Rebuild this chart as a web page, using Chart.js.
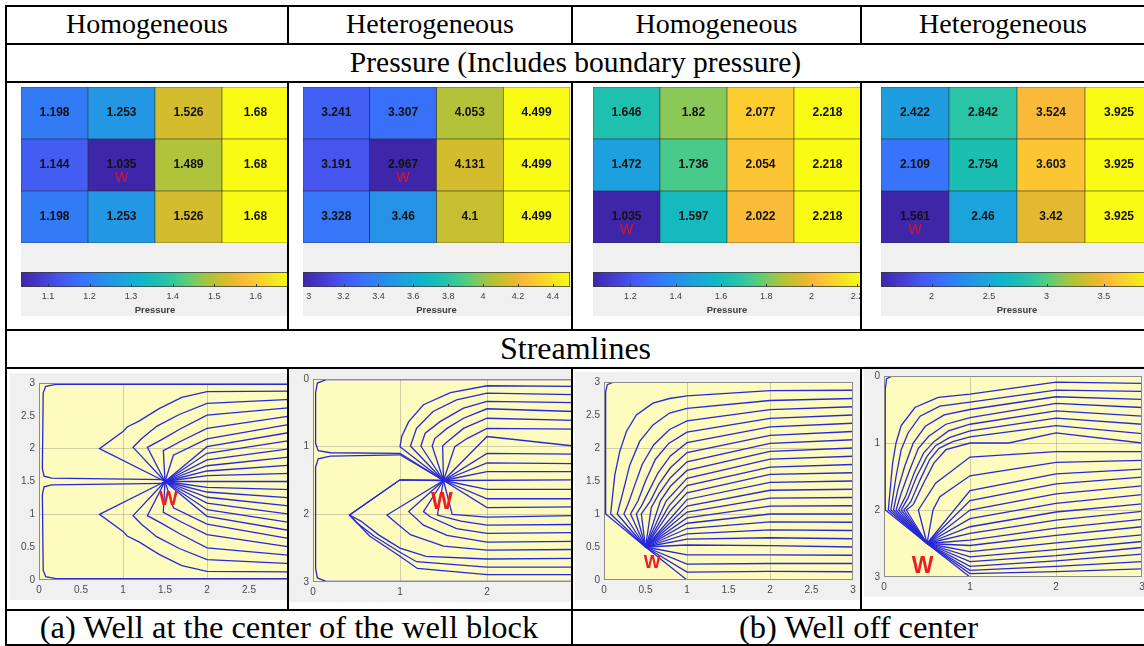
<!DOCTYPE html>
<html>
<head>
<meta charset="utf-8">
<script src="https://cdn.jsdelivr.net/npm/chart.js@4.4.1/dist/chart.umd.min.js"></script>
<style>
  body { margin: 0; background: #fff; width: 1144px; height: 646px; overflow: hidden; position: relative; }
  .rule { position: absolute; background: #000; z-index: 5; }
  .cap { position: absolute; text-align: center; font-family: 'Liberation Serif', serif; font-size: 28px; line-height: 38px; color: #000; white-space: nowrap; }
  .panel { position: absolute; overflow: hidden; background: #f0f0f0; }
  canvas { position: absolute; }
</style>
</head>
<body>
<div id="page"></div>
<script>
// ---------- table text ----------
const colHeads = ['Homogeneous', 'Heterogeneous', 'Homogeneous', 'Heterogeneous'];
const pressureRow = 'Pressure (Includes boundary pressure)';
const streamRow = 'Streamlines';
const captions = ['(a) Well at the center of the well block', '(b) Well off center'];

// ---------- pressure grids (rows top -> bottom) ----------
const p1Cells = [[1.198, 1.253, 1.526, 1.68], [1.144, 1.035, 1.489, 1.68], [1.198, 1.253, 1.526, 1.68]];
const p2Cells = [[3.241, 3.307, 4.053, 4.499], [3.191, 2.967, 4.131, 4.499], [3.328, 3.46, 4.1, 4.499]];
const p3Cells = [[1.646, 1.82, 2.077, 2.218], [1.472, 1.736, 2.054, 2.218], [1.035, 1.597, 2.022, 2.218]];
const p4Cells = [[2.422, 2.842, 3.524, 3.925], [2.109, 2.754, 3.603, 3.925], [1.561, 2.46, 3.42, 3.925]];
const p1Well = [1, 1];
const p2Well = [1, 1];
const p3Well = [2, 0];
const p4Well = [2, 0];
const p1Range = [1.035, 1.68];
const p2Range = [2.967, 4.499];
const p3Range = [1.035, 2.218];
const p4Range = [1.561, 3.925];
const p1Ticks = [1.1, 1.2, 1.3, 1.4, 1.5, 1.6];
const p2Ticks = [3, 3.2, 3.4, 3.6, 3.8, 4, 4.2, 4.4];
const p3Ticks = [1.2, 1.4, 1.6, 1.8, 2, 2.2];
const p4Ticks = [2, 2.5, 3, 3.5];

// ---------- streamlines (x, y) ----------
const sl1 = [
  [[3,2.98],[0.2,2.98],[0.08,2.95],[0.05,2.85],[0.04,1.7],[0.06,1.58],[0.15,1.55],[1.5,1.53]],
  [[3,2.875],[2,2.87],[1.7,2.78],[1.43,2.61],[1.19,2.42],[1.05,2.33],[1.0,2.26],[0.72,2.0],[1.5,1.5]],
  [[3,2.75],[2,2.69],[1.67,2.52],[1.4,2.34],[1.22,2.15],[1.12,2.02],[1.5,1.5]],
  [[3,2.625],[2,2.51],[1.68,2.3],[1.45,2.13],[1.29,2.02],[1.5,1.5]],
  [[3,2.5],[2,2.31],[1.7,2.12],[1.48,1.97],[1.5,1.5]],
  [[3,2.375],[2,2.15],[1.6,1.9],[1.5,1.5]],
  [[3,2.25],[2,2.03],[1.5,1.5]],
  [[3,2.125],[2,1.93],[1.5,1.5]],
  [[3,2.0],[2,1.83],[1.5,1.5]],
  [[3,1.875],[2,1.74],[1.5,1.5]],
  [[3,1.75],[2,1.66],[1.5,1.5]],
  [[3,1.625],[2,1.59],[1.5,1.5]],
  [[3,1.5],[1.5,1.5]],
  [[3,1.375],[2,1.41],[1.5,1.5]],
  [[3,1.25],[2,1.34],[1.5,1.5]],
  [[3,1.125],[2,1.26],[1.5,1.5]],
  [[3,1.0],[2,1.17],[1.5,1.5]],
  [[3,0.875],[2,1.07],[1.5,1.5]],
  [[3,0.75],[2,0.97],[1.5,1.5]],
  [[3,0.625],[2,0.85],[1.6,1.1],[1.5,1.5]],
  [[3,0.5],[2,0.69],[1.7,0.88],[1.48,1.03],[1.5,1.5]],
  [[3,0.375],[2,0.49],[1.68,0.7],[1.45,0.87],[1.29,0.98],[1.5,1.5]],
  [[3,0.25],[2,0.31],[1.67,0.48],[1.4,0.66],[1.22,0.85],[1.12,0.98],[1.5,1.5]],
  [[3,0.125],[2,0.13],[1.7,0.22],[1.43,0.39],[1.19,0.58],[1.05,0.67],[1.0,0.74],[0.72,1.0],[1.5,1.5]],
  [[3,0.02],[0.2,0.02],[0.08,0.05],[0.05,0.15],[0.04,1.3],[0.06,1.42],[0.15,1.45],[1.5,1.47]]
];
const sl2 = [
  [[3,0.01],[0.15,0.01],[0.05,0.06],[0.03,0.2],[0.03,0.95],[0.06,1.06],[0.2,1.09],[1.0,1.1],[1.5,1.5]],
  [[3,0.11],[2,0.1],[1.58,0.2],[1.27,0.38],[1.1,0.63],[1.02,0.85],[1.0,1.0],[1.5,1.5]],
  [[3,0.23],[2,0.21],[1.65,0.31],[1.38,0.48],[1.19,0.73],[1.12,0.99],[1.5,1.5]],
  [[3,0.35],[2,0.33],[1.73,0.43],[1.46,0.63],[1.29,0.8],[1.24,0.99],[1.5,1.5]],
  [[3,0.48],[2,0.44],[1.73,0.58],[1.54,0.73],[1.4,0.88],[1.37,0.99],[1.5,1.5]],
  [[3,0.61],[2,0.58],[1.73,0.73],[1.54,0.93],[1.49,0.99],[1.5,1.5]],
  [[3,0.74],[2,0.73],[1.77,0.88],[1.63,1.0],[1.5,1.5]],
  [[3,0.99],[2,0.85],[1.5,1.5]],
  [[3,1.11],[2,1.1],[1.5,1.5]],
  [[3,1.25],[2,1.24],[1.5,1.5]],
  [[3,1.37],[2,1.37],[1.5,1.5]],
  [[3,1.49],[1.5,1.5]],
  [[3,1.63],[2,1.63],[1.5,1.5]],
  [[3,1.77],[2,1.77],[1.5,1.5]],
  [[3,1.89],[2,1.9],[1.5,1.5]],
  [[3,2.02],[2,2.04],[1.6,2.0],[1.5,1.5]],
  [[3,2.15],[2,2.16],[1.7,2.1],[1.43,2.01],[1.5,1.5]],
  [[3,2.27],[2,2.28],[1.65,2.21],[1.35,2.04],[1.27,1.96],[1.5,1.5]],
  [[3,2.4],[2,2.41],[1.54,2.31],[1.27,2.16],[1.1,1.96],[1.5,1.5]],
  [[3,2.52],[2,2.53],[1.5,2.47],[1.12,2.3],[0.95,2.12],[0.85,2.01],[1.5,1.5]],
  [[3,2.65],[2,2.66],[1.3,2.62],[1.0,2.5],[0.75,2.3],[0.55,2.1],[0.42,2.01],[1.0,1.49],[1.5,1.5]],
  [[3,2.78],[2,2.78],[1.19,2.7],[1.0,2.56],[0.7,2.32],[0.5,2.12],[0.42,2.01],[1.0,1.49],[1.5,1.5]],
  [[3,2.89],[2,2.89],[1.2,2.8],[1.0,2.62],[0.65,2.32],[0.42,2.01]],
  [[3,2.99],[0.15,2.99],[0.05,2.94],[0.03,2.8],[0.03,1.3],[0.06,1.18],[0.2,1.14],[1.0,1.12],[1.5,1.5]]
];
const sl3 = [
  [[3,3],[0.12,3],[0.04,2.96],[0.02,2.85],[0.02,1.0],[0.5,0.5]],
  [[3,2.875],[2,2.87],[1,2.79],[0.79,2.75],[0.59,2.68],[0.39,2.5],[0.27,2.25],[0.19,1.95],[0.13,1.59],[0.08,1.0],[0.5,0.5]],
  [[3,2.75],[2,2.72],[1,2.6],[0.79,2.53],[0.59,2.35],[0.43,2.1],[0.31,1.74],[0.23,1.34],[0.16,1.0],[0.5,0.5]],
  [[3,2.625],[2,2.58],[1,2.41],[0.79,2.28],[0.6,2.05],[0.46,1.75],[0.36,1.4],[0.29,1.15],[0.24,1.0],[0.5,0.5]],
  [[3,2.5],[2,2.45],[1,2.24],[0.78,2.07],[0.62,1.83],[0.5,1.5],[0.41,1.2],[0.32,1.0],[0.5,0.5]],
  [[3,2.375],[2,2.32],[1,2.08],[0.8,1.88],[0.65,1.62],[0.53,1.32],[0.45,1.12],[0.39,1.0],[0.5,0.5]],
  [[3,2.25],[2,2.19],[1,1.93],[0.8,1.7],[0.66,1.45],[0.56,1.2],[0.45,1.0],[0.5,0.5]],
  [[3,2.125],[2,2.07],[1,1.79],[0.8,1.55],[0.66,1.3],[0.57,1.1],[0.5,0.5]],
  [[3,2.0],[2,1.95],[1,1.66],[0.8,1.42],[0.68,1.2],[0.5,0.5]],
  [[3,1.875],[2,1.83],[1,1.54],[0.75,1.2],[0.5,0.5]],
  [[3,1.75],[2,1.71],[1,1.43],[0.78,1.12],[0.5,0.5]],
  [[3,1.625],[2,1.6],[1,1.32],[0.8,1.05],[0.5,0.5]],
  [[3,1.5],[2,1.48],[1,1.22],[0.5,0.5]],
  [[3,1.375],[2,1.36],[1,1.12],[0.5,0.5]],
  [[3,1.25],[2,1.24],[1,1.03],[0.5,0.5]],
  [[3,1.125],[2,1.12],[1,0.94],[0.5,0.5]],
  [[3,1.0],[2,1.0],[1,0.86],[0.5,0.5]],
  [[3,0.875],[2,0.88],[1,0.78],[0.5,0.5]],
  [[3,0.75],[2,0.76],[1,0.7],[0.5,0.5]],
  [[3,0.625],[2,0.64],[1,0.62],[0.5,0.5]],
  [[3,0.5],[2,0.52],[1,0.53],[0.5,0.5]],
  [[3,0.375],[2,0.38],[1,0.38],[0.5,0.5]],
  [[3,0.25],[2,0.25],[1,0.24],[0.5,0.5]],
  [[3,0.125],[2,0.13],[1,0.12],[0.5,0.5]],
  [[3,0],[1,0],[0.5,0.5]]
];
const sl4 = [
  [[3,0],[0.1,0],[0.03,0.04],[0.015,0.2],[0.015,2.0],[0.5,2.5]],
  [[3,0.11],[2,0.09],[1,0.27],[0.63,0.32],[0.36,0.47],[0.2,0.74],[0.14,1.0],[0.1,1.3],[0.05,2.0],[0.5,2.5]],
  [[3,0.23],[2,0.21],[1,0.39],[0.65,0.45],[0.42,0.6],[0.28,0.85],[0.2,1.1],[0.14,1.5],[0.08,2.0],[0.5,2.5]],
  [[3,0.35],[2,0.31],[1,0.5],[0.7,0.58],[0.48,0.75],[0.34,1.0],[0.24,1.35],[0.16,1.7],[0.11,2.0],[0.5,2.5]],
  [[3,0.47],[2,0.41],[1,0.62],[0.72,0.72],[0.52,0.9],[0.4,1.08],[0.3,1.4],[0.2,1.75],[0.14,2.0],[0.5,2.5]],
  [[3,0.6],[2,0.52],[1,0.72],[0.75,0.82],[0.58,0.98],[0.46,1.15],[0.35,1.45],[0.25,1.8],[0.17,2.0],[0.5,2.5]],
  [[3,0.72],[2,0.63],[1,0.82],[0.76,0.92],[0.6,1.04],[0.5,1.2],[0.38,1.5],[0.28,1.82],[0.2,2.0],[0.5,2.5]],
  [[3,0.86],[2,0.74],[1,0.91],[0.8,0.98],[0.64,1.08],[0.53,1.25],[0.42,1.55],[0.31,1.88],[0.23,2.0],[0.5,2.5]],
  [[3,1.0],[2,0.85],[1.45,1.0],[1,1.0],[0.72,1.1],[0.58,1.3],[0.46,1.6],[0.34,1.92],[0.26,2.0],[0.5,2.5]],
  [[3,1.13],[2,1.13],[1,1.21],[0.6,1.6],[0.4,2.0],[0.5,2.5]],
  [[3,1.26],[2,1.29],[1,1.49],[0.65,1.8],[0.57,2.0],[0.5,2.5]],
  [[3,1.39],[2,1.46],[1,1.71],[0.5,2.5]],
  [[3,1.51],[2,1.61],[1,1.86],[0.5,2.5]],
  [[3,1.64],[2,1.76],[1,2.0],[0.5,2.5]],
  [[3,1.77],[2,1.9],[1,2.13],[0.5,2.5]],
  [[3,1.91],[2,2.03],[1,2.25],[0.5,2.5]],
  [[3,2.02],[2,2.15],[1,2.35],[0.5,2.5]],
  [[3,2.14],[2,2.27],[1,2.45],[0.5,2.5]],
  [[3,2.25],[2,2.38],[1,2.53],[0.5,2.5]],
  [[3,2.37],[2,2.49],[1,2.62],[0.5,2.5]],
  [[3,2.47],[2,2.59],[1,2.7],[0.5,2.5]],
  [[3,2.56],[2,2.68],[1,2.77],[0.5,2.5]],
  [[3,2.66],[2,2.76],[1,2.84],[0.5,2.5]],
  [[3,2.77],[2,2.84],[1,2.9],[0.5,2.5]],
  [[3,2.88],[2,2.92],[1,2.95],[0.5,2.5]],
  [[3,3],[1,3],[0.5,2.5]]
];
const sl1Label = [1.54, 1.22];
const sl2Label = [1.48, 1.83];
const sl3Label = [0.58, 0.26];
const sl4Label = [0.45, 2.85];
const sl1XTicks = [0, 0.5, 1, 1.5, 2, 2.5, 3];
const sl1YTicks = [0, 0.5, 1, 1.5, 2, 2.5, 3];
const sl2XTicks = [0, 1, 2, 3];
const sl2YTicks = [0, 1, 2, 3];
const sl3XTicks = [0, 0.5, 1, 1.5, 2, 2.5, 3];
const sl3YTicks = [0, 0.5, 1, 1.5, 2, 2.5, 3];
const sl4XTicks = [0, 1, 2, 3];
const sl4YTicks = [0, 1, 2, 3];

// parula-like colour stops
const parula = [
  [0.00, 62, 38, 168], [0.08, 70, 60, 212], [0.15, 70, 86, 240], [0.23, 56, 115, 250],
  [0.30, 40, 140, 236], [0.37, 30, 160, 222], [0.44, 15, 180, 205], [0.50, 25, 190, 180],
  [0.56, 50, 198, 160], [0.62, 90, 205, 120], [0.66, 135, 200, 90], [0.70, 172, 195, 60],
  [0.75, 205, 190, 45], [0.79, 228, 185, 48], [0.83, 250, 186, 57], [0.87, 252, 200, 50],
  [0.93, 245, 225, 35], [1.00, 249, 251, 20]
];
function parulaColor(t) {
  t = Math.max(0, Math.min(1, t));
  for (let i = 1; i < parula.length; i++) {
    if (t <= parula[i][0]) {
      const a = parula[i - 1], b = parula[i];
      const f = (t - a[0]) / (b[0] - a[0]);
      const c = [1, 2, 3].map(k => Math.round(a[k] + (b[k] - a[k]) * f));
      return `rgb(${c[0]},${c[1]},${c[2]})`;
    }
  }
  return 'rgb(249,251,20)';
}

const page = document.getElementById('page');

function addRule(x, y, w, h) {
  const d = document.createElement('div');
  d.className = 'rule';
  Object.assign(d.style, { left: x + 'px', top: y + 'px', width: w + 'px', height: h + 'px' });
  page.appendChild(d);
}
function addText(txt, x, w, y, size) {
  const d = document.createElement('div');
  d.className = 'cap';
  d.textContent = txt;
  Object.assign(d.style, { left: x + 'px', width: w + 'px', top: y + 'px' });
  if (size) d.style.fontSize = size + 'px';
  page.appendChild(d);
}
function makeCanvas(parent, x, y, w, h) {
  const c = document.createElement('canvas');
  c.width = w; c.height = h;
  Object.assign(c.style, { left: x + 'px', top: y + 'px', width: w + 'px', height: h + 'px' });
  parent.appendChild(c);
  return c;
}

// ---------- table frame ----------
[5, 43, 81, 329, 367, 609, 644].forEach(y => addRule(5, y, 1139, 2));
addRule(5, 5, 2, 641);
[287, 860].forEach(x => { addRule(x, 5, 2, 38); addRule(x, 81, 2, 248); addRule(x, 367, 2, 242); });
addRule(571, 5, 2, 38); addRule(571, 81, 2, 248); addRule(571, 367, 2, 279);

const colX = [[7, 280], [289, 282], [573, 287], [862, 282]];
colHeads.forEach((t, i) => addText(t, colX[i][0], colX[i][1], 5));
addText(pressureRow, 7, 1137, 43, 29.5);
addText(streamRow, 7, 1137, 329, 32);
addText(captions[0], 7, 564, 608, 32.5);
addText(captions[1], 573, 571, 608, 32.5);

// ---------- pressure panels ----------
const heatPanels = [
  { cells: p1Cells, well: p1Well, range: p1Range, ticks: p1Ticks, left: 21, width: 268, view: 266 },
  { cells: p2Cells, well: p2Well, range: p2Range, ticks: p2Ticks, left: 303, width: 267, view: 268 },
  { cells: p3Cells, well: p3Well, range: p3Range, ticks: p3Ticks, left: 593, width: 268, view: 267 },
  { cells: p4Cells, well: p4Well, range: p4Range, ticks: p4Ticks, left: 881, width: 272, view: 263 }
];

heatPanels.forEach(p => {
  const box = document.createElement('div');
  box.className = 'panel';
  Object.assign(box.style, { left: p.left + 'px', top: '87px', width: p.view + 'px', height: '229px' });
  page.appendChild(box);

  const rowsBottomUp = p.cells.map((row, r) => ({ row, r })).reverse();
  const cellText = {
    id: 'cellText',
    afterDatasetsDraw(chart) {
      const ctx = chart.ctx;
      ctx.save();
      ctx.textAlign = 'center';
      ctx.textBaseline = 'middle';
      chart.data.datasets.forEach((ds, di) => {
        chart.getDatasetMeta(di).data.forEach((el, ci) => {
          const cx = el.x, cy = (el.y + el.base) / 2;
          ctx.fillStyle = '#121212';
          ctx.font = "bold 12px 'Liberation Sans', Arial, sans-serif";
          ctx.fillText(String(p.cells[ds.rowIndex][ci]), cx, cy);
          if (ds.rowIndex === p.well[0] && ci === p.well[1]) {
            ctx.fillStyle = '#e0142a';
            ctx.font = "14px 'Liberation Sans', Arial, sans-serif";
            ctx.fillText('W', cx, cy + 13);
          }
        });
      });
      ctx.restore();
    }
  };
  new Chart(makeCanvas(box, 0, 0, p.width, 156), {
    type: 'bar',
    data: {
      labels: ['c1', 'c2', 'c3', 'c4'],
      datasets: rowsBottomUp.map(o => ({
        rowIndex: o.r,
        data: o.row.map(() => 1),
        backgroundColor: o.row.map(v => parulaColor((v - p.range[0]) / (p.range[1] - p.range[0]))),
        borderColor: '#262626',
        borderWidth: 0.6,
        borderSkipped: false,
        barPercentage: 1,
        categoryPercentage: 1
      }))
    },
    options: {
      responsive: false, animation: false, devicePixelRatio: 1,
      layout: { padding: 0 },
      plugins: { legend: { display: false }, tooltip: { enabled: false } },
      scales: {
        x: { display: false, stacked: true },
        y: { display: false, stacked: true, min: 0, max: 3 }
      }
    },
    plugins: [cellText]
  });

  // colour bar
  const tickMarks = {
    id: 'tickMarks',
    afterDraw(chart) {
      const s = chart.scales.x, a = chart.chartArea, ctx = chart.ctx;
      ctx.save();
      ctx.strokeStyle = '#3a3a3a';
      ctx.lineWidth = 1;
      s.ticks.forEach(t => {
        const px = Math.round(s.getPixelForValue(t.value)) + 0.5;
        ctx.beginPath(); ctx.moveTo(px, a.bottom); ctx.lineTo(px, a.bottom - 3); ctx.stroke();
      });
      ctx.restore();
    }
  };
  new Chart(makeCanvas(box, 0, 185, p.width, 44), {
    type: 'bar',
    data: {
      labels: ['Pressure'],
      datasets: [{
        data: [p.range],
        backgroundColor: (c) => {
          const a = c.chart.chartArea;
          if (!a) return '#888';
          const g = c.chart.ctx.createLinearGradient(a.left, 0, a.right, 0);
          parula.forEach(s => g.addColorStop(s[0], `rgb(${s[1]},${s[2]},${s[3]})`));
          return g;
        },
        borderColor: '#3a3a3a',
        borderWidth: 1,
        borderSkipped: false,
        barPercentage: 1,
        categoryPercentage: 1
      }]
    },
    options: {
      indexAxis: 'y',
      responsive: false, animation: false, devicePixelRatio: 1,
      layout: { padding: 0 },
      plugins: { legend: { display: false }, tooltip: { enabled: false } },
      scales: {
        y: { display: false },
        x: {
          type: 'linear', min: p.range[0], max: p.range[1],
          afterBuildTicks: s => { s.ticks = p.ticks.map(v => ({ value: v })); },
          afterFit: s => { s.height = 29; s.paddingLeft = 0; s.paddingRight = 0; },
          grid: { display: false, drawTicks: false },
          border: { display: false },
          ticks: {
            padding: 4, color: '#3c3c3c', maxRotation: 0, autoSkip: false,
            font: { family: "'Liberation Sans', Arial, sans-serif", size: 9 },
            callback: v => String(v)
          },
          title: {
            display: true, text: 'Pressure', color: '#3c3c3c', padding: { top: 0, bottom: 0 },
            font: { family: "'Liberation Sans', Arial, sans-serif", size: 9.5, weight: 'bold' }
          }
        }
      }
    },
    plugins: [tickMarks]
  });
});

// ---------- streamline panels ----------
const slPanels = [
  { lines: sl1, label: sl1Label, lsize: 20, xt: sl1XTicks, yt: sl1YTicks, rev: false, L: 39, T: 383, R: 291, B: 580, boxL: 10, boxR: 287 },
  { lines: sl2, label: sl2Label, lsize: 23, xt: sl2XTicks, yt: sl2YTicks, rev: true, L: 313, T: 379, R: 574, B: 582, boxL: 289, boxR: 571 },
  { lines: sl3, label: sl3Label, lsize: 18, xt: sl3XTicks, yt: sl3YTicks, rev: false, L: 604, T: 382, R: 853, B: 580, boxL: 575, boxR: 860 },
  { lines: sl4, label: sl4Label, lsize: 23, xt: sl4XTicks, yt: sl4YTicks, rev: true, L: 884, T: 376, R: 1142, B: 577, boxL: 864, boxR: 1144 }
];

slPanels.forEach(p => {
  const box = document.createElement('div');
  box.className = 'panel';
  const boxT = p.T - 10, boxB = p.B + 20;
  Object.assign(box.style, { left: p.boxL + 'px', top: boxT + 'px', width: (p.boxR - p.boxL) + 'px', height: (boxB - boxT) + 'px' });
  page.appendChild(box);

  const axW = 28, axH = 18, padT = 10, padR = 8;
  const cx = p.L - axW - p.boxL, cy = p.T - padT - boxT;
  const w = p.R - p.L + axW + padR, h = p.B - p.T + padT + axH;

  const plotFrame = {
    id: 'plotFrame',
    beforeDraw(chart) {
      const a = chart.chartArea, ctx = chart.ctx;
      ctx.save();
      ctx.fillStyle = 'rgb(253,251,190)';
      ctx.fillRect(a.left, a.top, a.right - a.left, a.bottom - a.top);
      ctx.restore();
    },
    afterDraw(chart) {
      const a = chart.chartArea, ctx = chart.ctx;
      ctx.save();
      ctx.strokeStyle = '#8c8c8c';
      ctx.lineWidth = 1;
      ctx.strokeRect(a.left + 0.5, a.top + 0.5, a.right - a.left - 1, a.bottom - a.top - 1);
      const px = chart.scales.x.getPixelForValue(p.label[0]);
      const py = chart.scales.y.getPixelForValue(p.label[1]);
      ctx.fillStyle = '#ee1c24';
      ctx.font = `bold ${p.lsize}px 'Liberation Sans', Arial, sans-serif`;
      ctx.textAlign = 'center';
      ctx.textBaseline = 'middle';
      ctx.fillText('W', px, py);
      ctx.restore();
    }
  };
  const gridColor = (c) => {
    const v = c.tick.value;
    return (Number.isInteger(v) && v > 0 && v < 3) ? 'rgba(120,120,120,0.35)' : 'rgba(0,0,0,0)';
  };
  const tickFont = { family: "'Liberation Sans', Arial, sans-serif", size: 10 };

  new Chart(makeCanvas(box, cx, cy, w, h), {
    type: 'scatter',
    data: {
      datasets: p.lines.map(line => ({
        data: line.map(pt => ({ x: pt[0], y: pt[1] })),
        showLine: true,
        borderColor: 'rgb(40,40,215)',
        borderWidth: 1.3,
        pointRadius: 0,
        tension: 0,
        fill: false
      }))
    },
    options: {
      responsive: false, animation: false, devicePixelRatio: 1,
      layout: { padding: { top: padT, right: padR, left: 0, bottom: 0 } },
      plugins: { legend: { display: false }, tooltip: { enabled: false } },
      scales: {
        x: {
          type: 'linear', min: 0, max: 3,
          afterBuildTicks: s => { s.ticks = p.xt.map(v => ({ value: v })); },
          afterFit: s => { s.height = axH; s.paddingLeft = 0; s.paddingRight = 0; },
          grid: { color: gridColor, drawTicks: false },
          border: { display: false },
          ticks: { padding: 4, color: '#4a4a4a', font: tickFont, maxRotation: 0, autoSkip: false, callback: v => String(v) }
        },
        y: {
          type: 'linear', min: 0, max: 3, reverse: p.rev,
          afterBuildTicks: s => { s.ticks = p.yt.map(v => ({ value: v })); },
          afterFit: s => { s.width = axW; s.paddingTop = 0; s.paddingBottom = 0; },
          grid: { color: gridColor, drawTicks: false },
          border: { display: false },
          ticks: { padding: 4, color: '#4a4a4a', font: tickFont, autoSkip: false, callback: v => String(v) }
        }
      }
    },
    plugins: [plotFrame]
  });
});
</script>
</body>
</html>
